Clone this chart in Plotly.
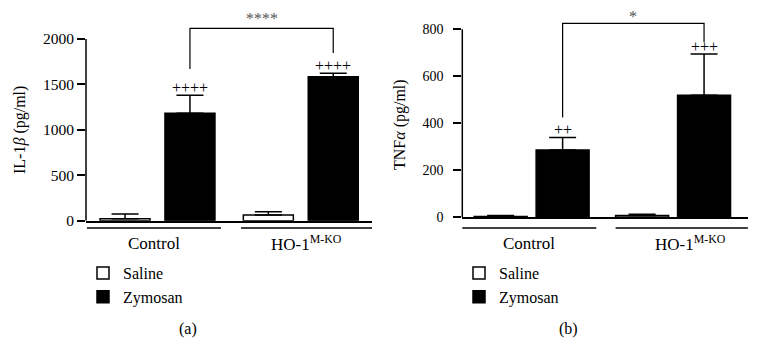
import plotly.graph_objects as go

# ---------------- data ----------------
groups = ["Control", "HO-1<sup>M-KO</sup>"]
series = ["Saline", "Zymosan"]

il1b_saline = [22, 63]
il1b_saline_err = [52, 36]
il1b_zymosan = [1182, 1585]
il1b_zymosan_err = [198, 37]

tnfa_saline = [3, 8]
tnfa_saline_err = [5, 5]
tnfa_zymosan = [286, 519]
tnfa_zymosan_err = [54, 176]

il1b_ticks = [0, 500, 1000, 1500, 2000]
tnfa_ticks = [0, 200, 400, 600, 800]

il1b_plus = ["++++", "++++"]
tnfa_plus = ["++", "+++"]
il1b_sig = "****"
tnfa_sig = "*"
# significance bracket: top level, left foot, right foot (data units)
il1b_bracket = [2118, 1670, 1846]
tnfa_bracket = [825, 425, 745]

# ---------------- layout helpers ----------------
W, H = 759, 362
FONT = "Liberation Serif"


def px(x):
    return x / W


def py(y):
    return 1 - y / H


panels = [
    dict(
        xa="x", ya="y", xd=[86, 372], y0=220.7, yv_pix=39, yv=2000, ytop=5,
        xrange=[-0.499, 1.497], width=0.349, offs=[-0.401, 0.052],
        saline=il1b_saline, saline_err=il1b_saline_err,
        zym=il1b_zymosan, zym_err=il1b_zymosan_err,
        ticks=il1b_ticks, tickfont=15.5, standoff=0,
        plus=il1b_plus, sig=il1b_sig, bracket=il1b_bracket, sigshift=-1,
        underline=[[-0.492, 0.443], [0.583, 1.504]], labelx=[-0.024, 1.041],
        title="IL-1<i>β</i> (pg/ml)", title_xy=[20, 130],
        legend="legend", legend_x=83, tag="(a)", tag_x=188,
    ),
    dict(
        xa="x2", ya="y2", xd=[462.3, 748], y0=217.3, yv_pix=29.3, yv=800, ytop=5,
        xrange=[-0.49, 1.53], width=0.3746, offs=[-0.406, 0.032],
        saline=tnfa_saline, saline_err=tnfa_saline_err,
        zym=tnfa_zymosan, zym_err=tnfa_zymosan_err,
        ticks=tnfa_ticks, tickfont=14, standoff=7,
        plus=tnfa_plus, sig=tnfa_sig, bracket=tnfa_bracket, sigshift=-4,
        underline=[[-0.497, 0.457], [0.594, 1.529]], labelx=[-0.019, 1.12],
        title="TNF<i>α</i> (pg/ml)", title_xy=[400, 125],
        legend="legend2", legend_x=459, tag="(b)", tag_x=568,
    ),
]

fig = go.Figure()
shapes = []
annotations = []
layout_axes = {}

for i, p in enumerate(panels):
    suffix = "" if i == 0 else str(i + 1)
    ymax = p["yv"] * (p["y0"] - p["ytop"]) / (p["y0"] - p["yv_pix"])

    # bars
    fig.add_trace(go.Bar(
        x=groups, y=p["saline"], name=series[0], xaxis=p["xa"], yaxis=p["ya"],
        width=p["width"], offset=p["offs"][0], legend=p["legend"],
        marker=dict(color="white", line=dict(color="black", width=1.5)),
        error_y=dict(type="data", array=p["saline_err"], arrayminus=[0, 0], symmetric=False,
                     color="black", thickness=1.5, width=13.5),
    ))
    fig.add_trace(go.Bar(
        x=groups, y=p["zym"], name=series[1], xaxis=p["xa"], yaxis=p["ya"],
        width=p["width"], offset=p["offs"][1], legend=p["legend"],
        marker=dict(color="black", line=dict(color="black", width=1.5)),
        error_y=dict(type="data", array=p["zym_err"], arrayminus=[0, 0], symmetric=False,
                     color="black", thickness=1.5, width=13.5),
    ))

    layout_axes["xaxis" + suffix] = dict(
        domain=[px(p["xd"][0]), px(p["xd"][1])], range=p["xrange"], anchor=p["ya"],
        showline=True, linecolor="black", linewidth=1.5, ticks="", showticklabels=False,
        showgrid=False, zeroline=False, type="category", automargin=False,
        categoryorder="array", categoryarray=groups,
    )
    layout_axes["yaxis" + suffix] = dict(
        domain=[py(p["y0"]), py(p["ytop"])], range=[0, ymax], anchor=p["xa"],
        showline=False, showgrid=False, zeroline=False, automargin=False,
        tickmode="array", tickvals=p["ticks"], ticks="outside", ticklen=8, tickwidth=1.5,
        tickcolor="black", ticklabelstandoff=p["standoff"],
        tickfont=dict(family=FONT, size=p["tickfont"], color="black"),
    )

    # y axis line only up to the last tick
    shapes.append(dict(type="line", xref=p["xa"] + " domain", yref=p["ya"],
                       x0=0, x1=0, y0=0, y1=p["ticks"][-1],
                       line=dict(color="black", width=1.5)))

    # significance bracket between the two zymosan bars
    zc = [g + p["offs"][1] + p["width"] / 2 for g in range(len(groups))]
    top, lf, rf = p["bracket"]
    shapes.append(dict(type="path", xref=p["xa"], yref=p["ya"],
                       path=f"M {zc[0]},{lf} L {zc[0]},{top} L {zc[1]},{top} L {zc[1]},{rf}",
                       line=dict(color="black", width=1.2)))
    annotations.append(dict(xref=p["xa"], yref=p["ya"], x=(zc[0] + zc[1]) / 2, y=top,
                            text=p["sig"], showarrow=False, yanchor="bottom", yshift=p["sigshift"],
                            font=dict(family=FONT, size=16, color="#555555")))

    # plus signs above zymosan bars
    for g in range(len(groups)):
        annotations.append(dict(xref=p["xa"], yref=p["ya"], x=zc[g],
                                y=p["zym"][g] + p["zym_err"][g], text=p["plus"][g],
                                showarrow=False, yanchor="bottom", yshift=-3,
                                font=dict(family=FONT, size=16, color="black")))

    # group underlines and labels
    for g in range(len(groups)):
        u = p["underline"][g]
        shapes.append(dict(type="line", xref=p["xa"], yref="paper", x0=u[0], x1=u[1],
                           y0=py(228), y1=py(228), line=dict(color="black", width=1.5)))
        annotations.append(dict(xref=p["xa"], yref="paper", x=p["labelx"][g], y=py(243),
                                text=groups[g], showarrow=False, yanchor="middle",
                                font=dict(family=FONT, size=17, color="black")))

    # axis title
    annotations.append(dict(xref="paper", yref="paper", x=px(p["title_xy"][0]),
                            y=py(p["title_xy"][1]), text=p["title"], textangle=-90,
                            showarrow=False, xanchor="center", yanchor="middle",
                            font=dict(family=FONT, size=16, color="black")))
    # panel tag
    annotations.append(dict(xref="paper", yref="paper", x=px(p["tag_x"]), y=py(329),
                            text=p["tag"], showarrow=False, xanchor="center", yanchor="middle",
                            font=dict(family=FONT, size=16, color="black")))

legend_style = dict(xanchor="left", yanchor="top", bgcolor="rgba(0,0,0,0)",
                    font=dict(family=FONT, size=16, color="black"), tracegroupgap=0,
                    traceorder="normal")

fig.update_layout(
    width=W, height=H, margin=dict(l=0, r=0, t=0, b=0, autoexpand=False),
    paper_bgcolor="white", plot_bgcolor="white",
    barmode="overlay", showlegend=True,
    font=dict(family=FONT, color="black"),
    shapes=shapes, annotations=annotations,
    legend=dict(x=px(panels[0]["legend_x"]), y=py(256), **legend_style),
    legend2=dict(x=px(panels[1]["legend_x"]), y=py(256), **legend_style),
    **layout_axes,
)

fig.write_html("out.html", config={"displayModeBar": False},
               post_script="document.body.style.margin='0';")
